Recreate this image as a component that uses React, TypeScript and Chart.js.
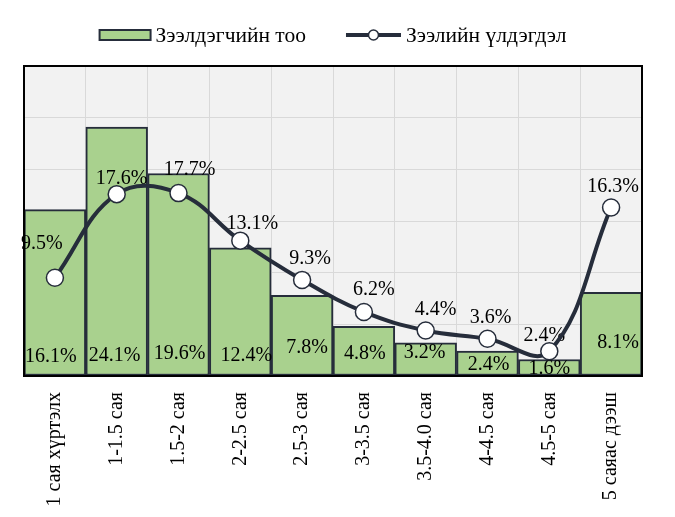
import { useEffect, useRef } from 'react';
import { Chart, registerables } from 'chart.js';

Chart.register(...registerables);

const categories = [
  '1 сая хүртэлх',
  '1-1.5 сая',
  '1.5-2 сая',
  '2-2.5 сая',
  '2.5-3 сая',
  '3-3.5 сая',
  '3.5-4.0 сая',
  '4-4.5 сая',
  '4.5-5 сая',
  '5 саяас дээш',
];
const borrowers = [16.1, 24.1, 19.6, 12.4, 7.8, 4.8, 3.2, 2.4, 1.6, 8.1];
const balance = [9.5, 17.6, 17.7, 13.1, 9.3, 6.2, 4.4, 3.6, 2.4, 16.3];
const seriesNames = ['Зээлдэгчийн тоо', 'Зээлийн үлдэгдэл'];

// label placement tweaks (style), relative to library-computed element positions
const lineLabelDx = [-13, 5, 11, 12, 8, 10, 10, 3, -5, 2];
const lineLabelDy = [-36, -17, -25, -18, -23, -24, -22, -23, -17, -22];
const barLabelDx = [-4, -2, 1, 6, 5, 1, -1, 1, 0, 7];
const barLabelDy = [-20, -21, -23, -21, -29, -23, -24, -12, -8, -34];

const FONT = '"Liberation Serif", "Times New Roman", serif';
const GREEN = '#a9d18e';
const DARK = '#262d3b';
const FS = 20;
const LEGEND_FS = 21.5;

const plotPlugin = {
  id: 'plotDecor',
  beforeDraw(chart: any) {
    const { ctx, chartArea: a } = chart;
    ctx.save();
    ctx.fillStyle = '#f2f2f2';
    ctx.fillRect(a.left, a.top, a.right - a.left, a.bottom - a.top);
    ctx.restore();
  },
  afterDatasetDraw(chart: any, args: any) {
    if (args.index !== 1) return;
    const { ctx } = chart;
    ctx.save();
    ctx.font = `${FS}px ${FONT}`;
    ctx.fillStyle = '#000';
    ctx.textAlign = 'center';
    ctx.textBaseline = 'alphabetic';
    const half = FS * 0.338;
    const barMeta = chart.getDatasetMeta(1);
    barMeta.data.forEach((el: any, i: number) => {
      ctx.fillText(
        `${borrowers[i].toFixed(1)}%`,
        el.x + barLabelDx[i],
        el.base + barLabelDy[i] + half
      );
    });
    const lineMeta = chart.getDatasetMeta(0);
    lineMeta.data.forEach((el: any, i: number) => {
      ctx.fillText(
        `${balance[i].toFixed(1)}%`,
        el.x + lineLabelDx[i],
        el.y + lineLabelDy[i] + half
      );
    });
    ctx.restore();
  },
  afterDraw(chart: any) {
    const { ctx, chartArea: a } = chart;
    ctx.save();
    ctx.strokeStyle = '#000';
    ctx.lineWidth = 2;
    ctx.strokeRect(a.left, a.top, a.right - a.left, a.bottom - a.top);

    // legend
    ctx.font = `${LEGEND_FS}px ${FONT}`;
    const w1 = ctx.measureText(seriesNames[0]).width;
    const w2 = ctx.measureText(seriesNames[1]).width;
    const total = 51 + 5 + w1 + 40 + 55 + 5 + w2;
    let x = (a.left + a.right) / 2 - total / 2;
    const cy = a.top - 31;
    ctx.fillStyle = GREEN;
    ctx.fillRect(x, cy - 5, 51, 10);
    ctx.strokeStyle = DARK;
    ctx.lineWidth = 2;
    ctx.strokeRect(x, cy - 5, 51, 10);
    ctx.fillStyle = '#000';
    ctx.textAlign = 'left';
    ctx.textBaseline = 'alphabetic';
    ctx.fillText(seriesNames[0], x + 56, cy + 7);
    x = x + 56 + w1 + 40;
    ctx.beginPath();
    ctx.moveTo(x, cy);
    ctx.lineTo(x + 55, cy);
    ctx.strokeStyle = DARK;
    ctx.lineWidth = 4;
    ctx.stroke();
    ctx.beginPath();
    ctx.arc(x + 27.5, cy, 5, 0, Math.PI * 2);
    ctx.fillStyle = '#fff';
    ctx.fill();
    ctx.lineWidth = 1.5;
    ctx.stroke();
    ctx.fillStyle = '#000';
    ctx.fillText(seriesNames[1], x + 60, cy + 7);
    ctx.restore();
  },
};

export default function App() {
  const ref = useRef<HTMLCanvasElement>(null);
  useEffect(() => {
    const chart = new Chart(ref.current as HTMLCanvasElement, {
      type: 'bar',
      data: {
        labels: categories,
        datasets: [
          {
            type: 'line',
            label: seriesNames[1],
            data: balance,
            borderColor: DARK,
            borderWidth: 4,
            tension: 0.4,
            pointRadius: 8.5,
            pointBackgroundColor: '#ffffff',
            pointBorderColor: DARK,
            pointBorderWidth: 1.5,
            order: 0,
          } as any,
          {
            type: 'bar',
            label: seriesNames[0],
            data: borrowers,
            backgroundColor: GREEN,
            borderColor: DARK,
            borderWidth: 2,
            borderSkipped: false,
            barPercentage: 1,
            categoryPercentage: 1,
            order: 1,
          } as any,
        ],
      },
      options: {
        animation: false,
        responsive: false,
        layout: { padding: { left: 16, right: 25, top: 58, bottom: 0 } },
        scales: {
          x: {
            grid: { color: '#d9d9d9', drawTicks: false, offset: true },
            border: { display: false },
            ticks: {
              font: { family: FONT, size: FS },
              color: '#000',
              minRotation: 90,
              maxRotation: 90,
              padding: 16,
              autoSkip: false,
            },
            afterFit: (s: any) => {
              s.height = 133;
            },
          },
          y: {
            min: 0,
            max: 30,
            ticks: { display: false, stepSize: 5 },
            grid: { color: '#d9d9d9', drawTicks: false },
            border: { display: false },
            afterFit: (s: any) => {
              s.width = 0;
            },
          },
        },
        plugins: {
          legend: { display: false },
          tooltip: { enabled: false },
        },
      },
      plugins: [plotPlugin],
    });
    return () => chart.destroy();
  }, []);
  return (
    <div style={{ width: 659, height: 501 }}>
      <canvas ref={ref} width={659} height={501} />
    </div>
  );
}
